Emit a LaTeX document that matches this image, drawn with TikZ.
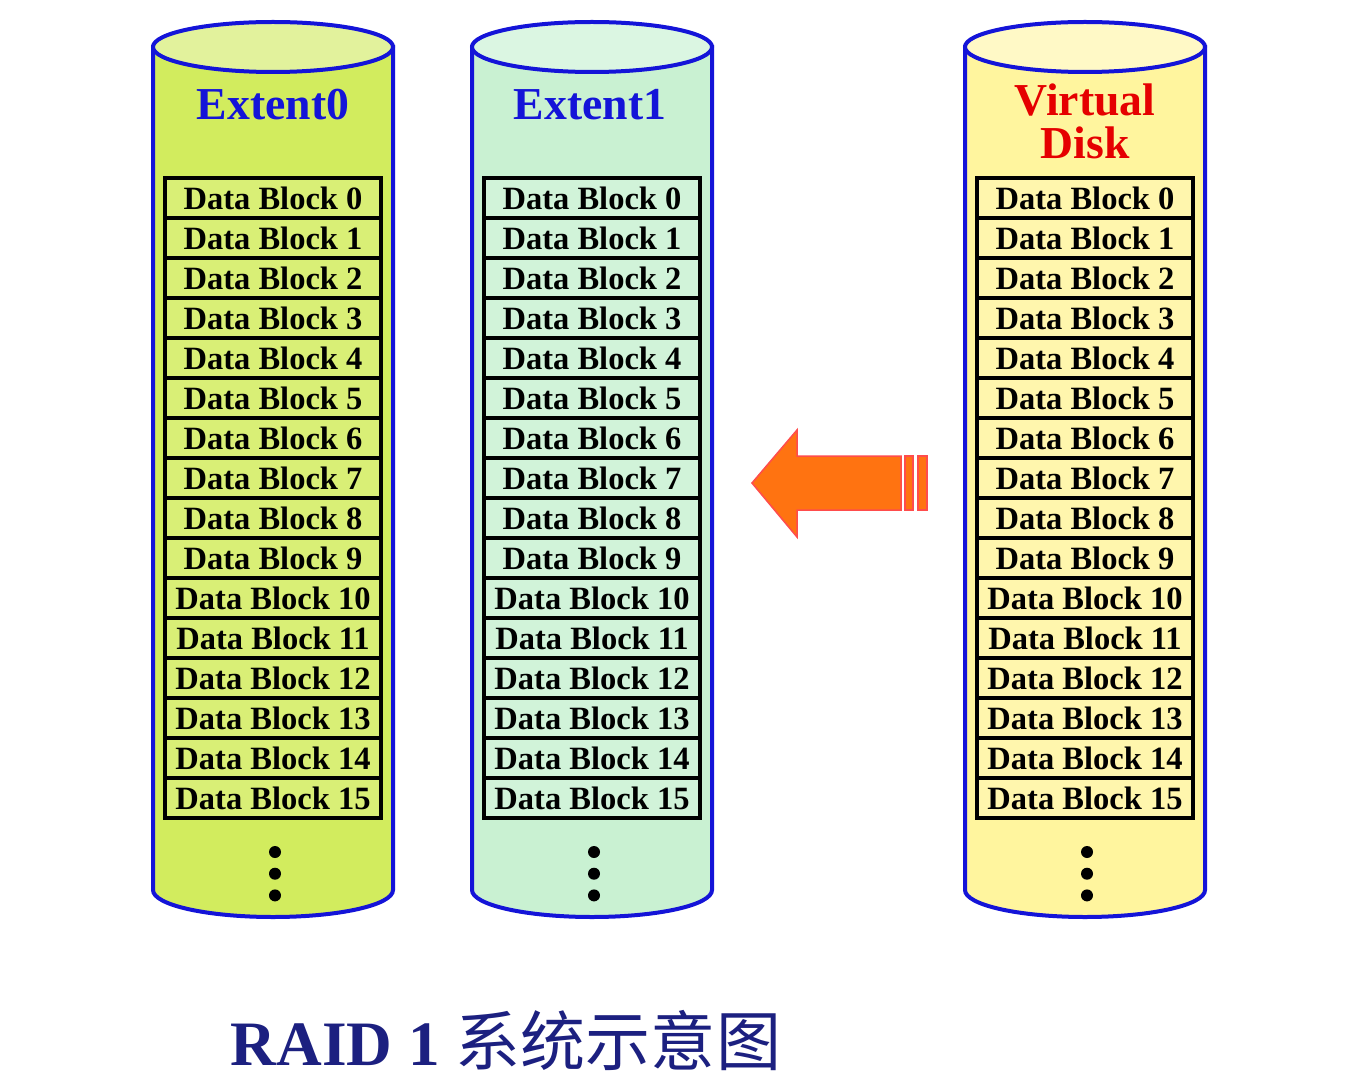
\documentclass[tikz,border=0pt]{standalone}
\usepackage{fontspec}
\setmainfont{Liberation Serif}
\newfontfamily\cjk{Noto Sans CJK SC}
\usepackage{xcolor}
\usepackage{tikz}
\usetikzlibrary{positioning}

\definecolor{limefill}{HTML}{D2EC5E}
\definecolor{limetop}{HTML}{E2F29C}
\definecolor{mintfill}{HTML}{C9F1D2}
\definecolor{minttop}{HTML}{DBF6E2}
\definecolor{creamfill}{HTML}{FFF59E}
\definecolor{creamtop}{HTML}{FFF9C6}
\definecolor{diskblue}{HTML}{1414D8}
\definecolor{navy}{HTML}{1C2080}
\definecolor{arrorange}{HTML}{FF7311}

\begin{document}
\begin{tikzpicture}[
    x=0.2mm, y=-0.2mm,
    disk/.style={draw=diskblue, line width=0.8mm},
    blk/.style={
        draw=black,
        line width=0.7mm,
        minimum width=43.2mm,
        minimum height=8mm,
        inner sep=0pt,
        outer sep=0pt,
        font=\fontsize{18.5}{18.5}\selectfont\bfseries
    },
    head/.style={font=\fontsize{26}{24.5}\selectfont\bfseries, align=center},
    dot/.style={circle, fill=black, inner sep=0pt, minimum size=2.4mm}
]

\useasboundingbox[fill=white] (0,0) rectangle (1348,1087);

% the three disks
\foreach \cx/\bodyc/\topc in {273/limefill/limetop, 592/mintfill/minttop, 1085/creamfill/creamtop} {
    \draw[disk, fill=\bodyc] (\cx-120,47) -- (\cx-120,890)
        arc[start angle=180, end angle=360, x radius=24mm, y radius=5.4mm]
        -- (\cx+120,47) -- cycle;
    \draw[disk, fill=\topc] (\cx,47) ellipse[x radius=24mm, y radius=5mm];
}

\node[head, text=diskblue] (e0head) at (273,105) {Extent0};
\node[head, text=diskblue] (e1head) at (590,105) {Extent1};
\node[head, text=red!90!black] (vdhead) at (1085,121) {Virtual\\Disk};

% data blocks
\foreach \d/\cx/\fillc in {e0/273/limefill, e1/592/mintfill, vd/1085/creamfill} {
    \node[blk, fill=\fillc!85!white] (\d-0) at (\cx,198) {Data Block 0};
    \foreach \i [remember=\i as \last (initially 0)] in {1,...,15}
        \node[blk, fill=\fillc!85!white, below=0pt of \d-\last] (\d-\i) {Data Block \i};
    \node[dot] (\d-dota) at (\cx+2,852) {};
    \node[dot, below=1.8mm of \d-dota] (\d-dotb) {};
    \node[dot, below=1.8mm of \d-dotb] (\d-dotc) {};
}

% copy arrow
\draw[fill=arrorange, draw=red!70!white, line width=0.3mm]
    (752,483) -- (797,430) -- (797,456) -- (901,456) -- (901,510)
    -- (797,510) -- (797,537) -- cycle;
\draw[fill=arrorange, draw=red!70!white, line width=0.3mm] (905,456) rectangle (913,510);
\draw[fill=arrorange, draw=red!70!white, line width=0.3mm] (918,456) rectangle (927,510);

\node[font=\fontsize{36}{36}\selectfont\bfseries, text=navy] (title) at (506,1040)
    {RAID 1 {\cjk\mdseries\fontsize{37}{37}\selectfont 系统示意图}};

\end{tikzpicture}
\end{document}
